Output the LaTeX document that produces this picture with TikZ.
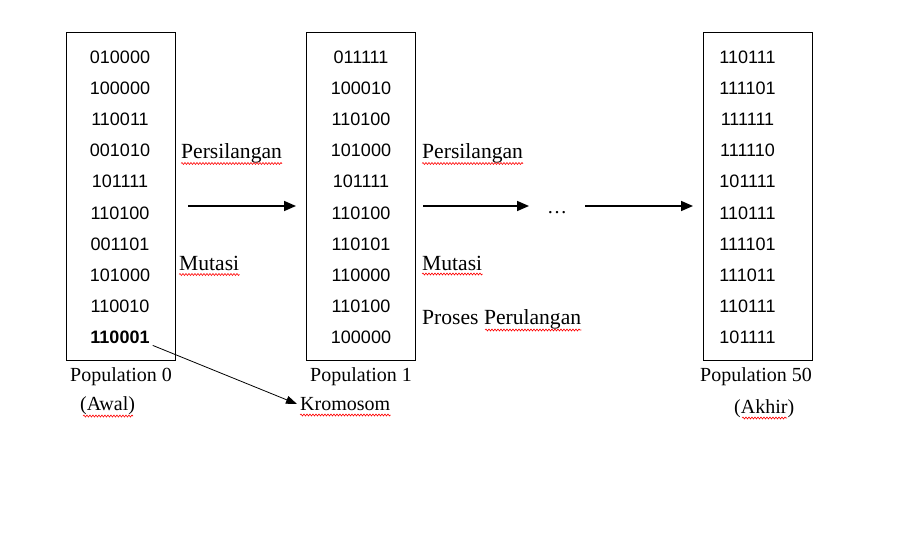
\documentclass[tikz,border=0pt]{standalone}
\usepackage{fontspec}
\setmainfont{Liberation Serif}
\newfontfamily\numfont{Liberation Sans}
\usetikzlibrary{arrows.meta,decorations.pathmorphing}
\begin{document}
\begin{tikzpicture}[x=1pt,y=-1pt,
  lbl/.style={anchor=base west,inner sep=0pt,font=\fontsize{20}{24}\selectfont},
  plbl/.style={anchor=base west,inner sep=0pt,font=\fontsize{21.6}{26}\selectfont},
  num/.style={anchor=base,inner sep=0pt,font=\numfont\fontsize{18}{20}\selectfont},
  popbox/.style={draw,line width=1pt,minimum width=109pt,minimum height=327pt,inner sep=0pt},
  flow/.style={line width=1.6pt,-{Triangle[length=12pt,width=10pt]}},
  thinflow/.style={line width=0.8pt,-{Triangle[length=11pt,width=8pt]}},
  squig/.style={red,line width=0.6pt,decorate,decoration={snake,amplitude=1pt,segment length=3pt}}]

\useasboundingbox (0,0) rectangle (917,556);

% boxes
\node[popbox] (b0) at (120.5,196.5) {};
\node[popbox] (b1) at (360.5,196.5) {};
\node[popbox] (b2) at (758,196.5) {};

% column 0
\foreach \t [count=\i from 0] in {010000,100000,110011,001010,101111,110100,001101,101000,110010}
  \node[num] (a\i) at (120,63.5+31.1*\i) {\t};
\node[num,font=\numfont\bfseries\fontsize{18}{20}\selectfont] (a9) at (120,63.5+31.1*9) {110001};

% column 1
\foreach \t [count=\i from 0] in {011111,100010,110100,101000,101111,110100,110101,110000,110100,100000}
  \node[num] (c\i) at (361,63.5+31.1*\i) {\t};

% column 50
\foreach \t [count=\i from 0] in {110111,111101,111111,111110,101111,110111,111101,111011,110111,101111}
  \node[num] (d\i) at (747.5,63.5+31.1*\i) {\t};

% labels under boxes
\node[lbl] (p0) at (70,381.5) {Population 0};
\node[lbl] (aw) at (80,410) {(Awal)};
\node[lbl] (p1) at (310,381.5) {Population 1};
\node[lbl] (kr) at (300,410) {Kromosom};
\node[lbl] (p50) at (700,381.5) {Population 50};
\node[lbl] (ak) at (734,413) {(Akhir)};

% process labels
\node[plbl] (s1) at (181,158.5) {Persilangan};
\node[plbl] (m1) at (179,270.5) {Mutasi};
\node[plbl] (s2) at (422,158.5) {Persilangan};
\node[plbl] (m2) at (422,270) {Mutasi};
\node[plbl] (pp) at (422,324) {Proses Perulangan};
\node[lbl] (dots) at (547,213) {\dots};

% arrows
\coordinate (f1a) at (188,206);
\coordinate (f1b) at (296,206);
\draw[flow] (f1a) -- (f1b);
\coordinate (f2a) at (423,206);
\draw[flow] (f2a) -- ([xshift=-18pt]dots.west |- f2a);
\coordinate (f3b) at (693,206);
\draw[flow] ([xshift=18pt]dots.east |- f3b) -- (f3b);
\draw[thinflow] ([xshift=3pt,yshift=-2pt]a9.base east) -- ([xshift=-3pt,yshift=6pt]kr.base west);

% spell-check underlines
\draw[squig] ([yshift=-5pt]s1.base west) -- ([yshift=-5pt]s1.base east);
\draw[squig] ([yshift=-4pt]m1.base west) -- ([yshift=-4pt]m1.base east);
\draw[squig] ([yshift=-5pt]s2.base west) -- ([yshift=-5pt]s2.base east);
\draw[squig] ([yshift=-4pt]m2.base west) -- ([yshift=-4pt]m2.base east);
\draw[squig] (485,330) -- (pp.base east |- 0,330);
\draw[squig] (83,416) -- (133,416);
\draw[squig] ([yshift=-5pt]kr.base west) -- ([yshift=-5pt]kr.base east);
\draw[squig] (742,418) -- (787,418);
\end{tikzpicture}
\end{document}
